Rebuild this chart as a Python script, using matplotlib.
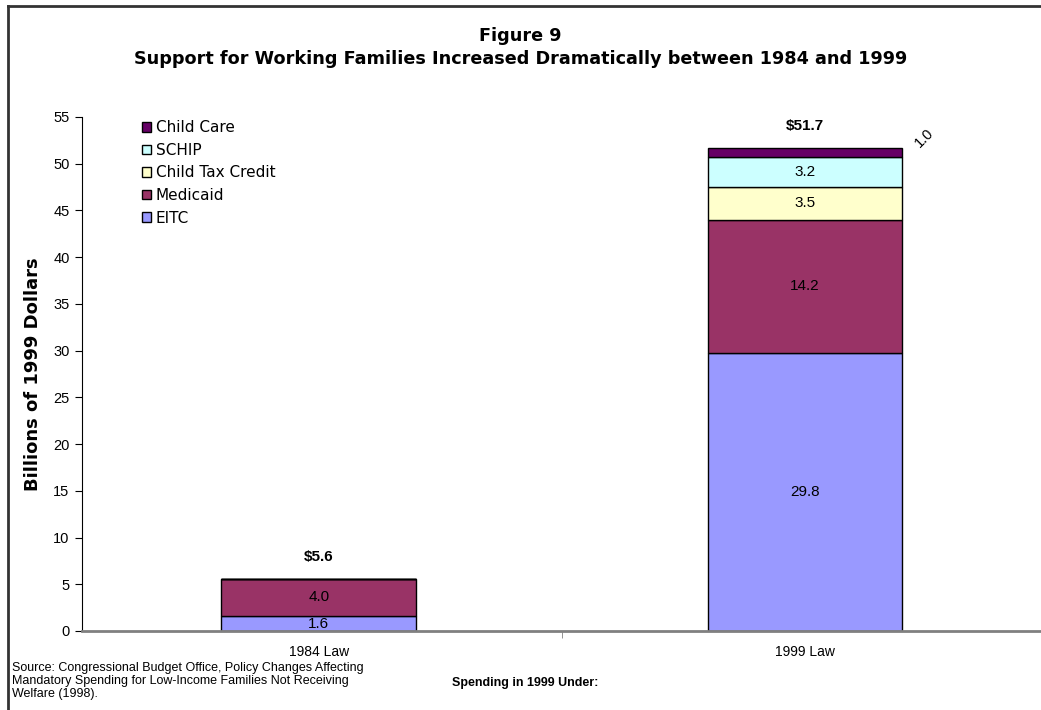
import matplotlib.pyplot as plt
from matplotlib.patches import Patch

plt.rcParams['font.family'] = ['Liberation Sans', 'DejaVu Sans']

categories = ["1984 Law", "1999 Law"]
series = ["EITC", "Medicaid", "Child Tax Credit", "SCHIP", "Child Care"]
eitc = [1.6, 29.8]
medicaid = [4.0, 14.2]
child_tax_credit = [0.0, 3.5]
schip = [0.0, 3.2]
child_care = [0.0, 1.0]
totals = ["$5.6", "$51.7"]
colors = ["#9999FF", "#993366", "#FFFFCC", "#CCFFFF", "#660066"]

values = [eitc, medicaid, child_tax_credit, schip, child_care]

fig = plt.figure(figsize=(10.41, 7.10), dpi=100)
ax = fig.add_axes([82 / 1041, 79 / 710, (1041 - 82) / 1041, (631 - 117) / 710])

x = list(range(len(categories)))
bottom = [0.0] * len(categories)
for name, vals, col in zip(series, values, colors):
    ax.bar(x, vals, width=0.4, bottom=bottom, color=col,
           edgecolor="black", linewidth=1.0, label=name, zorder=2)
    for i, v in enumerate(vals):
        if v <= 0:
            continue
        if name == "Child Care":
            # small segment: label sits outside, rotated
            ax.text(x[i] + 0.245, bottom[i] + v + 1.1, f"{v:.1f}",
                    rotation=45, ha="center", va="center", fontsize=10.5)
        else:
            ax.text(x[i], bottom[i] + v / 2, f"{v:.1f}",
                    ha="center", va="center", fontsize=11)
    bottom = [b + v for b, v in zip(bottom, vals)]

for i, t in enumerate(totals):
    ax.text(x[i], bottom[i] + 1.6, t, ha="center", va="bottom",
            fontsize=11, fontweight="bold")

ax.set_ylim(0, 55)
ax.set_xlim(-0.487, 1.486)
ax.set_yticks(range(0, 56, 5))
ax.set_xticks(x)
ax.set_xticklabels(categories, fontsize=10)
ax.set_xticks([0.5], minor=True)
ax.tick_params(axis="x", which="major", length=0, pad=10)
ax.tick_params(axis="x", which="minor", length=5, color="#808080")
ax.tick_params(axis="y", length=5, labelsize=10.5, pad=4)

for s in ["top", "right"]:
    ax.spines[s].set_visible(False)
ax.spines["bottom"].set_color("#808080")
ax.spines["bottom"].set_linewidth(2)
ax.spines["left"].set_color("black")

handles = [Patch(facecolor=c, edgecolor="black", label=n) for n, c in zip(series, colors)]
ax.legend(handles=handles[::-1], loc="upper left",
          bbox_to_anchor=(136 / 1041, 1 - 114 / 710), bbox_transform=fig.transFigure,
          frameon=False, prop={"family": "DejaVu Sans", "size": 11},
          handlelength=0.6, handleheight=0.6,
          handletextpad=0.3, labelspacing=0.5, borderaxespad=0)

fig.text(0.5, 1 - 36 / 710, "Figure 9", ha="center", va="center",
         fontsize=12.7, fontweight="bold", family="DejaVu Sans")
fig.text(0.5, 1 - 59 / 710,
         "Support for Working Families Increased Dramatically between 1984 and 1999",
         ha="center", va="center", fontsize=12.7, fontweight="bold", family="DejaVu Sans")
fig.text(33 / 1041, 1 - 374 / 710, "Billions of 1999 Dollars", rotation=90,
         ha="center", va="center", fontsize=13, fontweight="bold", family="DejaVu Sans")
fig.text(525 / 1041, 1 - 683 / 710, "Spending in 1999 Under:", ha="center",
         va="center", fontsize=9, fontweight="bold")
fig.text(12 / 1041, 1 - 662 / 710,
         "Source: Congressional Budget Office, Policy Changes Affecting\n"
         "Mandatory Spending for Low-Income Families Not Receiving\n"
         "Welfare (1998).",
         ha="left", va="top", fontsize=9, linespacing=1.1)

# outer frame (only top and left visible in the crop)
fig.add_artist(plt.Line2D([8 / 1041, 8 / 1041], [0, 1 - 6 / 710],
                          transform=fig.transFigure, color="#333333", linewidth=2))
fig.add_artist(plt.Line2D([8 / 1041, 1], [1 - 6 / 710, 1 - 6 / 710],
                          transform=fig.transFigure, color="#333333", linewidth=2))

fig.savefig("out.png", dpi=100)
